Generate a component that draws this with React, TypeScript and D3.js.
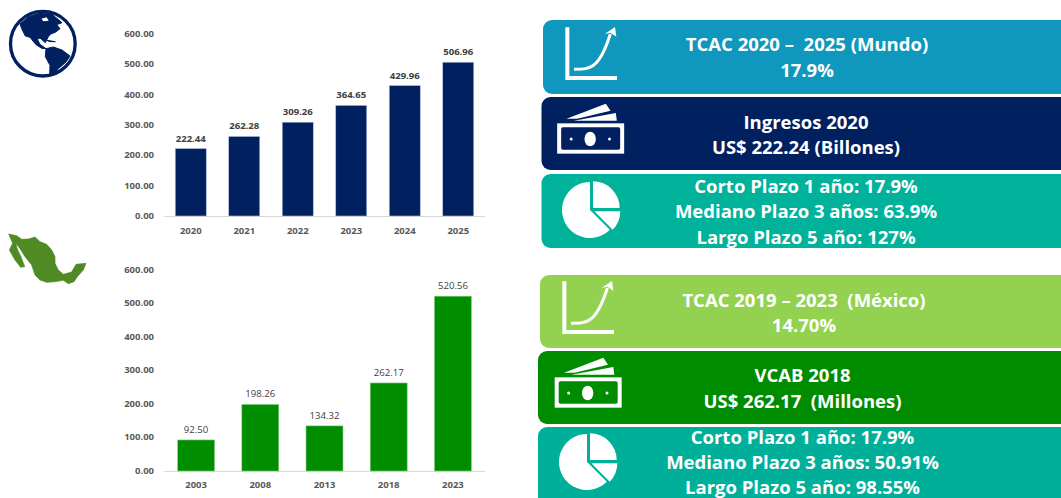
import React from "react";
import * as d3 from "d3";

const worldYears = ["2020", "2021", "2022", "2023", "2024", "2025"];
const worldValues = [222.44, 262.28, 309.26, 364.65, 429.96, 506.96];
const mexicoYears = ["2003", "2008", "2013", "2018", "2023"];
const mexicoValues = [92.5, 198.26, 134.32, 262.17, 520.56];
const yTicks = [0, 100, 200, 300, 400, 500, 600];

const FONT = "'Open Sans', Lato, sans-serif";

function BarChart({ cats, vals, x0, x1, y0, y600, fill, edge, labelWeight, padding, xLabelY }: any) {
  const x = d3.scaleBand<string>().domain(cats).range([x0, x1]).paddingInner(padding).paddingOuter(padding / 2);
  const y = d3.scaleLinear().domain([0, 600]).range([y0, y600]);
  return (
    <g fontFamily={FONT}>
      <line x1={x0} x2={x1} y1={y0 + 0.5} y2={y0 + 0.5} stroke="#D9D9D9" strokeWidth={1} />
      {vals.map((v: number, i: number) => (
        <rect key={cats[i]} x={x(cats[i])} y={y(v)} width={x.bandwidth()} height={y0 - y(v)} fill={fill} stroke={edge} strokeWidth={0.6} />
      ))}
      {yTicks.map((t) => (
        <text key={t} x={154} y={y(t) - 0.5} textAnchor="end" dominantBaseline="central" fontSize={9.5} fontWeight={700} fill="#595959">
          {d3.format(".2f")(t)}
        </text>
      ))}
      {cats.map((c: string) => (
        <text key={c} x={x(c)! + x.bandwidth() / 2} y={xLabelY} textAnchor="middle" dominantBaseline="central" fontSize={9.5} fontWeight={700} fill="#595959">
          {c}
        </text>
      ))}
      {vals.map((v: number, i: number) => (
        <text key={cats[i]} x={x(cats[i])! + x.bandwidth() / 2} y={y(v) - 10.5} textAnchor="middle" dominantBaseline="central" fontSize={9.6} fontWeight={labelWeight} fill="#404040">
          {d3.format(".2f")(v)}
        </text>
      ))}
    </g>
  );
}

function Panel({ x, y, h, fill, lines, cx, lineYs }: any) {
  return (
    <g>
      <rect x={x} y={y} width={1061 - x + 20} height={h} rx={9} fill={fill} />
      {lines.map((l: string, i: number) => (
        <text key={i} x={cx} y={lineYs[i]} textAnchor="middle" dominantBaseline="central" fontFamily={FONT} fontSize={18.5} fontWeight={700} fill="#fff" style={{ whiteSpace: "pre" }}>
          {l}
        </text>
      ))}
    </g>
  );
}

function GrowthIcon({ dx, dy }: any) {
  const curve = d3.line().curve(d3.curveBasis)([
    [129, 178], [165, 178], [195, 165], [222, 120], [238, 72],
  ]);
  return (
    <g transform={`translate(${dx},${dy}) scale(${1 / 3})`}>
      <path d="M103 52H115V198H258V210H103Z" fill="#fff" />
      <path d={curve!} fill="none" stroke="#fff" strokeWidth={9} />
      <path d="M221 72L252 51L256 80L238 68Z" fill="#fff" />
    </g>
  );
}

function MoneyIcon({ dx, dy, bg }: any) {
  return (
    <g transform={`translate(${dx},${dy}) scale(${1 / 3})`}>
      <path d="M108 326L226 281L240 302L140 326Z M130 332L256 309L259 332Z" fill="#fff" />
      <rect x={80} y={340} width={201} height={91} fill="#fff" />
      <rect x={92} y={352} width={177} height={67} rx={5} fill={bg} />
      <ellipse cx={179} cy={387} rx={17} ry={22} fill="#fff" />
      <circle cx={122} cy={387} r={4.5} fill="#fff" />
      <circle cx={237} cy={387} r={4.5} fill="#fff" />
    </g>
  );
}

function PieIcon({ dx, dy }: any) {
  const arc = d3.arc();
  const a = (s: number, e: number, r: number) => arc({ innerRadius: 0, outerRadius: r, startAngle: s, endAngle: e } as any)!;
  return (
    <g transform={`translate(${dx},${dy}) scale(${1 / 3})`} fill="#fff">
      <path transform="translate(177,600)" d={a((Math.PI * 3) / 4, Math.PI * 2, 84)} />
      <path transform="translate(186,594)" d={a(0, Math.PI / 2, 80)} />
      <path transform="translate(190,604)" d={a(Math.PI / 2, (Math.PI * 3) / 4, 78)} />
    </g>
  );
}

function Globe() {
  return (
    <g transform={`scale(${1 / 3})`}>
      <circle cx={128.5} cy={131} r={97} fill="#fff" stroke="#00205F" strokeWidth={10} />
      <path
        fill="#00205F"
        stroke="#00205F"
        strokeWidth={3}
        strokeLinejoin="round"
        d="M60 72L85 50L122 38L155 42L186 68L170 74L180 86L166 97L152 102L145 110L136 128L120 114L112 118L120 133L138 146L125 145L108 134L90 112L76 108L66 88Z"
      />
      <path fill="#fff" d="M124 56L140 52L146 62L130 64Z" />
      <path fill="#00205F" stroke="#00205F" strokeWidth={3} strokeLinejoin="round" d="M138 146L160 141L186 150L210 168L198 186L175 206L161 225L149 225L150 196L136 170Z M140 121L166 125L150 125Z" />
    </g>
  );
}

function MexicoMap() {
  return (
    <g transform={`translate(0,225) scale(${1 / 3})`}>
      <path
        fill="#4F8A24"
        stroke="#4F8A24"
        strokeWidth={2}
        strokeLinejoin="round"
        d="M26 27L50 32L65 43L85 42L105 36L120 50L140 58L155 75L165 95L165 115L175 135L190 148L215 141L228 118L258 115L250 135L232 155L222 170L205 176L190 166L165 170L140 172L120 165L105 150L95 120L75 95L58 68L47 55L52 72L64 98L74 125L62 127L45 105L28 75L38 55Z"
      />
    </g>
  );
}

export default function App() {
  return (
    <svg width={1061} height={498} viewBox="0 0 1061 498" style={{ position: "absolute", left: 0, top: 0, display: "block", background: "#fff" }}>
      <Globe />
      <MexicoMap />
      <BarChart cats={worldYears} vals={worldValues} x0={164} x1={485} y0={216} y600={34} fill="#00205F" edge="#B4C2DC" labelWeight={700} padding={0.42} xLabelY={230.5} />
      <BarChart cats={mexicoYears} vals={mexicoValues} x0={164} x1={485} y0={471} y600={269.5} fill="#008E00" edge="#8CD08C" labelWeight={400} padding={0.424} xLabelY={484.5} />

      <Panel x={543} y={20} h={74} fill="#0F97BD" cx={807} lineYs={[43.5, 69]} lines={["TCAC 2020 –  2025 (Mundo)", "17.9%"]} />
      <Panel x={541.5} y={97} h={73} fill="#00205F" cx={806} lineYs={[121, 146]} lines={["Ingresos 2020", "US$ 222.24 (Billones)"]} />
      <Panel x={541.5} y={174} h={74} fill="#00B29A" cx={806} lineYs={[185, 210.5, 236]} lines={["Corto Plazo 1 año: 17.9%", "Mediano Plazo 3 años: 63.9%", "Largo Plazo 5 año: 127%"]} />
      <Panel x={540} y={275} h={73} fill="#93D251" cx={804} lineYs={[299.5, 324]} lines={["TCAC 2019 – 2023  (México)", "14.70%"]} />
      <Panel x={538} y={351} h={73} fill="#008C00" cx={802.5} lineYs={[374.5, 400]} lines={["VCAB 2018", "US$ 262.17  (Millones)"]} />
      <Panel x={538} y={427} h={80} fill="#00AF9A" cx={802.5} lineYs={[436.5, 461.5, 486]} lines={["Corto Plazo 1 año: 17.9%", "Mediano Plazo 3 años: 50.91%", "Largo Plazo 5 año: 98.55%"]} />

      <GrowthIcon dx={531} dy={10} />
      <MoneyIcon dx={530.5} dy={10} bg="#00205F" />
      <PieIcon dx={531} dy={10} />
      <GrowthIcon dx={528} dy={264} />
      <MoneyIcon dx={528} dy={264} bg="#008C00" />
      <PieIcon dx={528} dy={262} />
    </svg>
  );
}
